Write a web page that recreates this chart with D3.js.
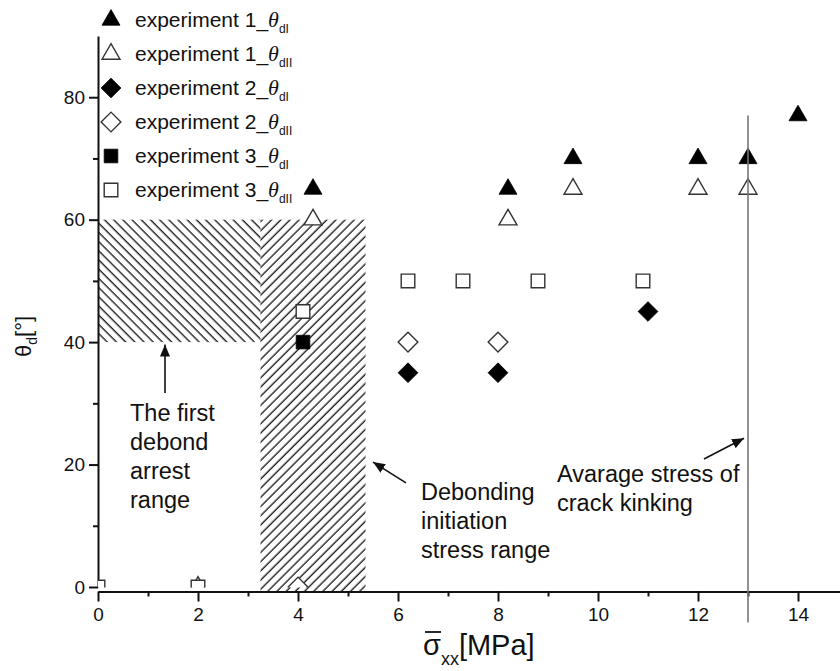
<!DOCTYPE html>
<html>
<head>
<meta charset="utf-8">
<script src="https://cdn.jsdelivr.net/npm/d3@7"></script>
<style>
  body { margin: 0; background: #fff; }
  svg { display: block; font-family: "Liberation Sans", Arial, sans-serif; }
  .axis path, .axis line { stroke: #111; stroke-width: 2; }
  .axis text { font-size: 19px; fill: #111; font-family: "Liberation Sans", Arial, sans-serif; }
</style>
</head>
<body>
<div id="container"></div>
<script>
// data: stress sigma_xx [MPa] vs. debond angle theta_d [deg]
const exp1_dI_x = [4.3, 8.2, 9.5, 12, 13, 14];
const exp1_dI_y = [65, 65, 70, 70, 70, 77];
const exp1_dII_x = [2, 4.3, 8.2, 9.5, 12, 13];
const exp1_dII_y = [0, 60, 60, 65, 65, 65];
const exp2_dI_x = [6.2, 8, 11];
const exp2_dI_y = [35, 35, 45];
const exp2_dII_x = [4, 6.2, 8];
const exp2_dII_y = [0, 40, 40];
const exp3_dI_x = [4.1];
const exp3_dI_y = [40];
const exp3_dII_x = [0, 2, 4.1, 6.2, 7.3, 8.8, 10.9];
const exp3_dII_y = [0, 0, 45, 50, 50, 50, 50];

const xTicks = [0, 2, 4, 6, 8, 10, 12, 14];
const xMinor = [1, 3, 5, 7, 9, 11, 13];
const yTicks = [0, 20, 40, 60, 80];
const yMinor = [10, 30, 50, 70];

const arrestRange = [0, 3.25, 40, 60];      // x0, x1, y0, y1
const initiationRange = [3.25, 5.35, 0, 60];
const kinkStress = 13, kinkTop = 77;

const series = [
    {exp: "1", sub: "dI",  shape: "tri", filled: true,  xs: exp1_dI_x,  ys: exp1_dI_y},
    {exp: "1", sub: "dII", shape: "tri", filled: false, xs: exp1_dII_x, ys: exp1_dII_y},
    {exp: "2", sub: "dI",  shape: "dia", filled: true,  xs: exp2_dI_x,  ys: exp2_dI_y},
    {exp: "2", sub: "dII", shape: "dia", filled: false, xs: exp2_dII_x, ys: exp2_dII_y},
    {exp: "3", sub: "dI",  shape: "sq",  filled: true,  xs: exp3_dI_x,  ys: exp3_dI_y},
    {exp: "3", sub: "dII", shape: "sq",  filled: false, xs: exp3_dII_x, ys: exp3_dII_y}
];

const width = 840, height = 671;

var x = d3.scaleLinear().domain([0, 14.84]).range([98, 840]);
var y = d3.scaleLinear().domain([0, 90]).range([587, 36]);
const xAxisY = y(0) + 4.5;

var svg = d3.select("#container").append("svg")
    .attr("width", width)
    .attr("height", height);

var defs = svg.append("defs");

function hatch(id, angle) {
    defs.append("pattern")
        .attr("id", id)
        .attr("patternUnits", "userSpaceOnUse")
        .attr("width", 6.5)
        .attr("height", 6.5)
        .attr("patternTransform", `rotate(${angle})`)
        .append("line")
        .attr("x1", 3).attr("y1", -1)
        .attr("x2", 3).attr("y2", 8)
        .attr("stroke", "#111")
        .attr("stroke-width", 1.3);
}
hatch("hatchBack", -45);
hatch("hatchFwd", 45);

defs.append("clipPath").attr("id", "plotClip")
    .append("rect")
    .attr("x", x(0)).attr("y", 0)
    .attr("width", width - x(0)).attr("height", y(0) + 0.5);

defs.append("marker")
    .attr("id", "arrow")
    .attr("viewBox", "0 0 12 10")
    .attr("refX", 12).attr("refY", 5)
    .attr("markerWidth", 12).attr("markerHeight", 10)
    .attr("markerUnits", "userSpaceOnUse")
    .attr("orient", "auto")
    .append("path")
    .attr("d", "M0,0 L12,5 L0,10 Z")
    .attr("fill", "#111");

// hatched ranges
svg.append("rect")
    .attr("x", x(arrestRange[0]))
    .attr("y", y(arrestRange[3]))
    .attr("width", x(arrestRange[1]) - x(arrestRange[0]))
    .attr("height", y(arrestRange[2]) - y(arrestRange[3]))
    .attr("fill", "url(#hatchBack)");

svg.append("rect")
    .attr("x", x(initiationRange[0]))
    .attr("y", y(initiationRange[3]))
    .attr("width", x(initiationRange[1]) - x(initiationRange[0]))
    .attr("height", xAxisY - y(initiationRange[3]))
    .attr("fill", "url(#hatchFwd)");

// y axis
svg.append("g").attr("class", "axis")
    .attr("transform", `translate(${x(0)},0)`)
    .call(d3.axisLeft(y).tickValues(yTicks).tickSize(9).tickSizeOuter(0).tickPadding(4));
svg.append("g").attr("class", "axis")
    .attr("transform", `translate(${x(0)},0)`)
    .call(d3.axisLeft(y).tickValues(yMinor).tickSize(5).tickSizeOuter(0).tickFormat(""))
    .select(".domain").remove();

// x axis
svg.append("g").attr("class", "axis")
    .attr("transform", `translate(0,${xAxisY})`)
    .call(d3.axisBottom(x).tickValues(xTicks).tickSize(10).tickSizeOuter(0).tickPadding(6));
svg.append("g").attr("class", "axis")
    .attr("transform", `translate(0,${xAxisY})`)
    .call(d3.axisBottom(x).tickValues(xMinor).tickSize(5).tickSizeOuter(0).tickFormat(""))
    .select(".domain").remove();

// markers
function symbolPath(shape) {
    if (shape === "tri") return d3.symbol(d3.symbolTriangle, 140)();
    if (shape === "sq") return d3.symbol(d3.symbolSquare, 185)();
    return d3.symbol(d3.symbolSquare, 195)();
}
function drawMarker(g, s, cx, cy) {
    g.append("path")
        .attr("d", symbolPath(s.shape))
        .attr("transform", `translate(${cx},${cy})` + (s.shape === "dia" ? " rotate(45)" : ""))
        .attr("fill", s.filled ? "#000" : "#fff")
        .attr("stroke", s.filled ? "#000" : "#333")
        .attr("stroke-width", s.filled ? 0.8 : 1.4);
}

var pts = svg.append("g").attr("clip-path", "url(#plotClip)");
series.forEach(function(s) {
    s.xs.forEach(function(v, i) {
        drawMarker(pts, s, x(v), y(s.ys[i]));
    });
});

// crack kinking stress line
svg.append("line")
    .attr("x1", x(kinkStress)).attr("x2", x(kinkStress))
    .attr("y1", y(kinkTop)).attr("y2", xAxisY + 31)
    .attr("stroke", "#777")
    .attr("stroke-width", 1.6);

// legend
var legend = svg.append("g");
series.forEach(function(s, i) {
    var ly = 20 + i * 34;
    drawMarker(legend, s, 111, ly);
    var t = legend.append("text")
        .attr("x", 135).attr("y", ly + 7)
        .style("font-size", "21px")
        .attr("fill", "#111");
    t.append("tspan").text("experiment " + s.exp + "_");
    t.append("tspan").text("θ")
        .style("font-family", "'Liberation Serif', serif")
        .style("font-style", "italic")
        .style("font-size", "22px");
    t.append("tspan").text(s.sub)
        .attr("dy", 6)
        .style("font-size", "12px");
});

// axis titles
var xl = svg.append("text")
    .attr("x", 423).attr("y", 655)
    .style("font-size", "29px")
    .attr("fill", "#111");
xl.append("tspan").text("σ");
xl.append("tspan").text("xx").attr("dy", 10).style("font-size", "18px");
xl.append("tspan").text("[MPa]").attr("dy", -10);
svg.append("line")
    .attr("x1", 425).attr("x2", 441)
    .attr("y1", 632).attr("y2", 632)
    .attr("stroke", "#111").attr("stroke-width", 1.8);

var yl = svg.append("text")
    .attr("transform", "translate(31,357) rotate(-90)")
    .style("font-size", "22px")
    .attr("fill", "#111");
yl.append("tspan").text("θ");
yl.append("tspan").text("d").attr("dy", 6).style("font-size", "14px");
yl.append("tspan").text("[°]").attr("dy", -6);

// annotations (data coordinates)
const notes = [
    {lines: ["The first", "debond", "arrest", "range"], tx: 0.64, ty: 27.1,
     from: [1.34, 31.7], to: [1.34, 39.6]},
    {lines: ["Debonding", "initiation", "stress range"], tx: 6.46, ty: 14.2,
     from: [6.16, 17.0], to: [5.5, 20.4]},
    {lines: ["Avarage stress of", "crack kinking"], tx: 9.18, ty: 17.1,
     from: [12.12, 20.9], to: [12.92, 24.3]}
];

notes.forEach(function(n) {
    svg.append("line")
        .attr("x1", x(n.from[0])).attr("y1", y(n.from[1]))
        .attr("x2", x(n.to[0])).attr("y2", y(n.to[1]))
        .attr("stroke", "#111").attr("stroke-width", 1.6)
        .attr("marker-end", "url(#arrow)");
    n.lines.forEach(function(l, i) {
        svg.append("text")
            .attr("x", x(n.tx))
            .attr("y", y(n.ty) + i * 29)
            .style("font-size", "23.5px")
            .attr("fill", "#111")
            .text(l);
    });
});
</script>
</body>
</html>
